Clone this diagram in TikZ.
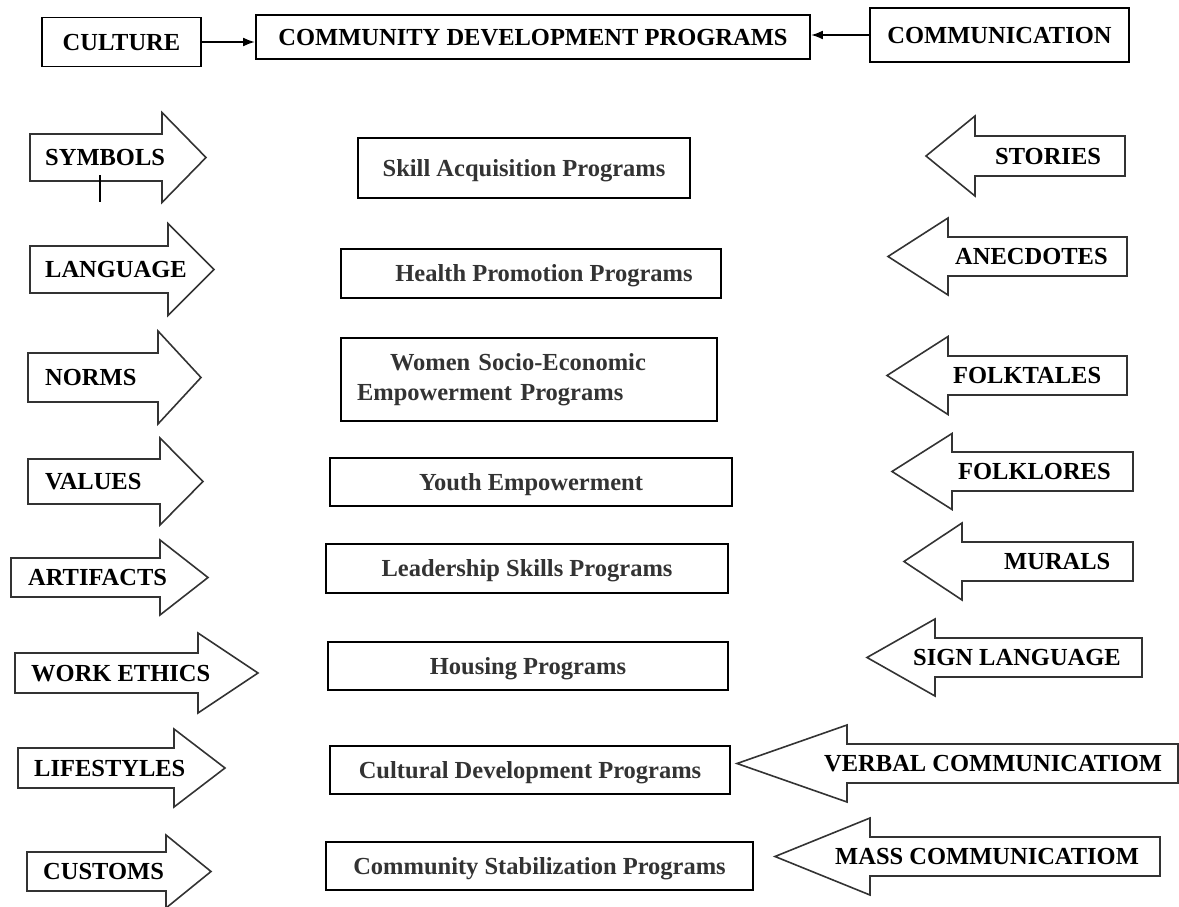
\documentclass[tikz,border=0pt]{standalone}
\usepackage{fontspec}
\setmainfont{Liberation Serif}
\usetikzlibrary{arrows.meta}

\begin{document}
\begin{tikzpicture}[x=1pt,y=-1pt,
  box/.style={draw,line width=1.9pt,inner sep=0pt,font=\bfseries\fontsize{24.5}{30}\selectfont,text height=16.2pt,text depth=0pt},
  prog/.style={draw,line width=1.8pt,inner sep=0pt,text=black!80,font=\bfseries\fontsize{24.5}{30}\selectfont},
  oneline/.style={text height=16.2pt,text depth=0pt},
  lbl/.style={inner sep=0pt,anchor=west,font=\bfseries\fontsize{24.5}{30}\selectfont,text height=16.2pt,text depth=0pt},
  blockarrow/.style={draw=black!80,line width=1.6pt},
  link/.style={-{Latex[length=12pt,width=9pt]},line width=2pt}]
% tail x, neck x, tip x, mid y, half body, half head
\newcommand{\rightblock}[6]{\draw[blockarrow] (#1,#4-#5) -- (#2,#4-#5) -- (#2,#4-#6) -- (#3,#4) -- (#2,#4+#6) -- (#2,#4+#5) -- (#1,#4+#5) -- cycle;}
% tip x, neck x, tail x, mid y, half body, half head
\newcommand{\leftblock}[6]{\draw[blockarrow] (#3,#4-#5) -- (#2,#4-#5) -- (#2,#4-#6) -- (#1,#4) -- (#2,#4+#6) -- (#2,#4+#5) -- (#3,#4+#5) -- cycle;}

\useasboundingbox (0,0) rectangle (1179,907);

% top row
\node[box,minimum width=159pt,minimum height=49pt] (culture) at (121.5,42) {CULTURE};
\node[box,minimum width=554pt,minimum height=44pt] (cdp) at (533,37) {COMMUNITY DEVELOPMENT PROGRAMS\hspace{14pt}};
\node[box,minimum width=259pt,minimum height=54pt] (communication) at (999.5,35) {COMMUNICATION};
\draw[link] (culture.east) -- (culture.east -| cdp.west);
\draw[link] (communication.west) -- (communication.west -| cdp.east);

% programs
\node[prog,oneline,minimum width=332pt,minimum height=60pt] (skill) at (524,168) {Skill Acquisition Programs};
\node[prog,oneline,minimum width=380pt,minimum height=49pt] (health) at (531,273.5) {\hspace{26pt}Health Promotion Programs};
\node[prog,minimum height=83pt,inner xsep=16pt,text width=344pt,align=left] (women) at (529,379.5) {\hspace*{33pt}Women Socio-Economic\\Empowerment Programs};
\node[prog,oneline,minimum width=402pt,minimum height=48pt] (youth) at (531,482) {Youth Empowerment\hspace{65pt}};
\node[prog,oneline,minimum width=402pt,minimum height=49pt] (leadership) at (527,568.5) {Leadership Skills Programs};
\node[prog,oneline,minimum width=400pt,minimum height=48pt] (housing) at (528,666) {Housing Programs};
\node[prog,oneline,minimum width=400pt,minimum height=48pt] (cultural) at (530,770) {Cultural Development Programs};
\node[prog,oneline,minimum width=427pt,minimum height=48pt] (stabilization) at (539.5,866) {Community Stabilization Programs};

% culture side
\rightblock{30}{162}{206}{157.5}{23.5}{45}
\node[lbl] (symbols) at (45,157.5) {SYMBOLS};
\coordinate (tick top) at (100,175);
\coordinate (tick end) at (100,202);
\draw[line width=1.4pt] (tick top) -- (tick end);
\rightblock{30}{168}{214}{269.5}{23.5}{46}
\node[lbl] (language) at (45,269.5) {LANGUAGE};
\rightblock{28}{158}{201}{377.5}{24.5}{46.5}
\node[lbl] (norms) at (45,377.5) {NORMS};
\rightblock{28}{160}{203}{481.5}{22.5}{43.5}
\node[lbl] (values) at (45,481.5) {VALUES};
\rightblock{11}{160}{208}{577.5}{19.5}{37.5}
\node[lbl] (artifacts) at (28,577.5) {ARTIFACTS};
\rightblock{15}{198}{258}{673}{20}{40}
\node[lbl] (workethics) at (31,673) {WORK ETHICS};
\rightblock{18}{174}{225}{768}{20}{39}
\node[lbl] (lifestyles) at (34,768) {LIFESTYLES};
\rightblock{27}{166}{211}{871.5}{19.5}{36.5}
\node[lbl] (customs) at (43,871.5) {CUSTOMS};

% communication side
\leftblock{926}{975}{1125}{156}{20}{40}
\node[lbl] (stories) at (995,156) {STORIES};
\leftblock{888}{948}{1127}{256.5}{19.5}{38.5}
\node[lbl] (anecdotes) at (955,256.5) {ANECDOTES};
\leftblock{887}{948}{1127}{375.5}{19.5}{39}
\node[lbl] (folktales) at (953,375.5) {FOLKTALES};
\leftblock{892}{952}{1133}{471.5}{19.5}{38}
\node[lbl] (folklores) at (958,471.5) {FOLKLORES};
\leftblock{904}{962}{1133}{561.5}{19.5}{38.5}
\node[lbl] (murals) at (1004,561.5) {MURALS};
\leftblock{867}{935}{1142}{657.5}{19.5}{38.5}
\node[lbl] (signlanguage) at (913,657.5) {SIGN LANGUAGE};
\leftblock{737}{847}{1178}{763.5}{19.5}{38.5}
\node[lbl] (verbal) at (824,763.5) {VERBAL COMMUNICATIOM};
\leftblock{775}{870}{1160}{856.5}{19.5}{38.5}
\node[lbl] (mass) at (835,856.5) {MASS COMMUNICATIOM};
\end{tikzpicture}
\end{document}
